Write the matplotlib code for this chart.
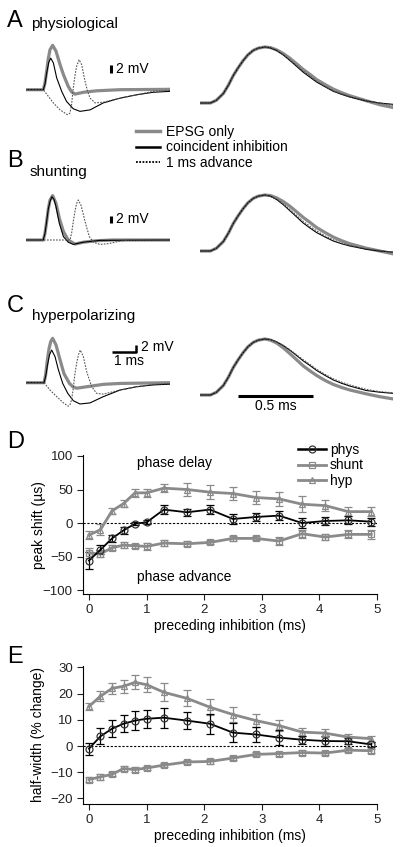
import numpy as np
import matplotlib
matplotlib.use('Agg')
import matplotlib.pyplot as plt
from matplotlib.lines import Line2D

plt.rcParams['font.family'] = ['Liberation Sans', 'DejaVu Sans']

W, H = 400, 847
GRAY = '#8a8a8a'
DOT = '#555555'

# ---- left traces (ms, mV) ----
a_gray_t = [0, 0.72, 0.79, 0.86, 0.93, 1.0, 1.11, 1.25, 1.42, 1.56, 1.76, 1.9, 2.04, 2.39, 2.94, 3.92, 6.0]
a_gray_v = [0, 0, 1.8, 5.0, 8.5, 10.9, 12.1, 10.5, 6.8, 4.1, 0.9, -0.6, -1.2, -0.7, -0.3, 0, 0.1]
a_blk_t = [0, 0.72, 0.79, 0.86, 0.95, 1.03, 1.14, 1.28, 1.49, 1.69, 1.97, 2.25, 2.67, 3.22, 3.92, 4.6, 5.3, 6.0]
a_blk_v = [0, 0, 1.5, 4.5, 7.5, 8.6, 7.3, 3.2, -0.5, -3.2, -5.2, -5.9, -5.5, -3.6, -2.3, -1.4, -0.7, -0.45]
a_dot_t = [0, 0.72, 0.93, 1.14, 1.42, 1.72, 1.83, 1.9, 1.97, 2.04, 2.11, 2.21, 2.32, 2.39, 2.46, 2.56, 2.67, 2.88, 3.22, 3.92, 4.6, 5.3, 6.0]
a_dot_v = [0, 0, -1.8, -3.6, -5.5, -6.8, -6.4, -4.0, 0.5, 3.8, 6.4, 8.2, 6.8, 4.5, 2.3, -0.3, -2.3, -3.6, -3.4, -2.3, -1.4, -0.45, -0.2]

b_gray_t = [0, 0.72, 0.79, 0.86, 0.93, 1.0, 1.11, 1.25, 1.39, 1.56, 1.76, 2.04, 2.39, 2.94, 3.6, 6.0]
b_gray_v = [0, 0, 1.8, 5.0, 8.5, 10.9, 12.1, 10.0, 5.9, 2.3, 0, -1.1, -0.6, -0.2, 0, 0]
b_blk_t = [0, 0.72, 0.79, 0.86, 0.93, 1.0, 1.08, 1.17, 1.25, 1.39, 1.56, 1.76, 1.97, 2.39, 3.08, 6.0]
b_blk_v = [0, 0, 1.8, 5.0, 8.5, 10.5, 11.8, 11.0, 9.1, 4.5, 0.9, -0.6, -1.2, -0.6, -0.1, 0]
b_dot_t = [0, 1.83, 1.9, 1.97, 2.04, 2.11, 2.18, 2.29, 2.38, 2.46, 2.64, 2.81, 3.08, 3.43, 3.92, 4.33, 6.0]
b_dot_v = [0, 0, 1.8, 5.0, 7.8, 10.0, 10.9, 9.5, 7.2, 5.0, 0.9, -0.6, -1.2, -1.0, -0.3, 0, 0]

c_gray_t = [0, 0.75, 0.82, 0.89, 0.96, 1.03, 1.11, 1.25, 1.42, 1.58, 1.81, 1.95, 2.11, 2.53, 3.22, 3.92, 6.0]
c_gray_v = [0, 0, 2.2, 6.2, 9.3, 11.2, 12.1, 10.3, 6.2, 2.5, -0.2, -1.1, -1.5, -1.1, -0.45, -0.2, 0]
c_blk_t = [0, 0.75, 0.82, 0.89, 0.98, 1.07, 1.21, 1.35, 1.53, 1.74, 1.97, 2.25, 2.67, 3.22, 3.92, 4.61, 5.31, 6.0]
c_blk_v = [0, 0, 1.8, 4.6, 7.6, 8.9, 7.1, 3.5, -0.2, -2.9, -4.9, -5.8, -5.5, -3.8, -2.0, -1.1, -0.6, -0.4]
c_dot_t = [0, 0.75, 1.0, 1.28, 1.56, 1.76, 1.83, 1.9, 1.97, 2.04, 2.11, 2.18, 2.26, 2.39, 2.46, 2.53, 2.64, 2.74, 2.94, 3.22, 3.92, 4.61, 5.31, 6.0]
c_dot_v = [0, 0, -2.0, -3.8, -5.5, -6.4, -6.0, -4.7, -1.5, 2.5, 5.3, 7.5, 8.9, 7.1, 5.0, 3.0, 0.8, -1.1, -2.9, -3.1, -2.0, -1.1, -0.45, -0.2]

# ---- right traces (ms, normalised) ----
r_t = [0, 0.07, 0.11, 0.156, 0.19, 0.222, 0.255, 0.289, 0.32, 0.356, 0.39, 0.433, 0.47,
       0.511, 0.555, 0.6, 0.645, 0.689, 0.735, 0.778, 0.835, 0.889, 0.945, 1.0, 1.111, 1.2, 1.289]
ra_gray = [0, 0, 0.05, 0.17, 0.32, 0.49, 0.63, 0.76, 0.86, 0.94, 0.98, 1.0, 0.99,
           0.95, 0.885, 0.80, 0.70, 0.60, 0.51, 0.42, 0.33, 0.25, 0.185, 0.13, 0.04, -0.03, -0.08]
ra_blk = [0, 0, 0.05, 0.17, 0.32, 0.49, 0.63, 0.76, 0.86, 0.94, 0.98, 1.0, 0.985,
          0.94, 0.86, 0.76, 0.655, 0.55, 0.46, 0.375, 0.29, 0.21, 0.155, 0.107, 0.036, 0.0, -0.024]
ra_dot = [0, 0, 0.05, 0.17, 0.32, 0.49, 0.63, 0.76, 0.86, 0.94, 0.98, 1.0, 0.985,
          0.94, 0.865, 0.77, 0.67, 0.57, 0.48, 0.39, 0.30, 0.22, 0.165, 0.115, 0.04, 0.0, -0.04]
rb_gray = [0, 0, 0.05, 0.17, 0.32, 0.49, 0.63, 0.76, 0.86, 0.94, 0.98, 1.0, 0.99,
           0.95, 0.885, 0.80, 0.70, 0.60, 0.51, 0.42, 0.33, 0.25, 0.185, 0.13, 0.05, 0.0, -0.05]
rb_blk = [0, 0, 0.05, 0.17, 0.32, 0.49, 0.63, 0.76, 0.86, 0.94, 0.98, 1.0, 0.98,
          0.92, 0.83, 0.72, 0.61, 0.50, 0.41, 0.33, 0.25, 0.18, 0.13, 0.09, 0.03, 0.0, -0.02]
rb_dot = [0, 0, 0.05, 0.17, 0.32, 0.49, 0.63, 0.76, 0.86, 0.94, 0.98, 1.0, 0.98,
          0.93, 0.845, 0.74, 0.635, 0.53, 0.44, 0.36, 0.27, 0.20, 0.145, 0.10, 0.04, 0.01, -0.02]
rc_gray = [0, 0, 0.05, 0.17, 0.32, 0.49, 0.63, 0.76, 0.86, 0.94, 0.98, 1.0, 0.98,
           0.93, 0.845, 0.74, 0.63, 0.52, 0.43, 0.35, 0.26, 0.19, 0.135, 0.09, 0.02, -0.03, -0.07]
rc_blk = [0, 0, 0.05, 0.17, 0.32, 0.49, 0.63, 0.76, 0.86, 0.94, 0.98, 1.0, 0.99,
          0.95, 0.885, 0.80, 0.705, 0.61, 0.525, 0.44, 0.35, 0.27, 0.21, 0.16, 0.08, 0.05, 0.03]
rc_dot = [0, 0, 0.05, 0.17, 0.32, 0.49, 0.63, 0.76, 0.86, 0.94, 0.98, 1.0, 0.99,
          0.95, 0.89, 0.81, 0.72, 0.63, 0.545, 0.46, 0.37, 0.29, 0.23, 0.18, 0.10, 0.06, 0.04]

# ---- summary data ----
delay = [0, 0.2, 0.4, 0.6, 0.8, 1.0, 1.3, 1.7, 2.1, 2.5, 2.9, 3.3, 3.7, 4.1, 4.5, 4.9]
d_phys = [-56, -40, -23, -11, -1, 1, 20, 16, 20, 6, 9, 11, 0, 3, 4, 2]
d_phys_err = [13, 7, 5, 5, 2, 3, 7, 5, 7, 8, 6, 7, 8, 6, 6, 6]
d_shunt = [-45, -46, -37, -33, -34, -35, -30, -31, -29, -23, -23, -27, -16, -21, -17, -17]
d_shunt_err = [7, 5, 4, 4, 3, 5, 4, 4, 3, 4, 3, 6, 6, 5, 6, 7]
d_hyp = [-18, -10, 18, 29, 45, 45, 52, 50, 46, 44, 38, 36, 28, 26, 17, 17]
d_hyp_err = [6, 8, 5, 5, 6, 6, 6, 9, 10, 10, 10, 10, 12, 8, 7, 7]

e_phys = [-1, 3.7, 6.6, 8.5, 9.7, 10.4, 10.8, 9.7, 8.5, 5.1, 4.4, 3.2, 2.4, 1.9, 1.8, 0.6]
e_phys_err = [2.3, 3, 3.2, 3.2, 3.5, 3.5, 3.8, 3.2, 3.8, 3.5, 3, 2.8, 1.5, 1.8, 1.2, 1.0]
e_shunt = [-12.8, -11.8, -10.8, -8.6, -9.0, -8.4, -7.3, -6.1, -5.9, -4.6, -3.2, -2.9, -2.5, -2.7, -1.6, -1.8]
e_shunt_err = [1, 1, 0.8, 0.8, 0.8, 0.8, 0.8, 0.8, 0.8, 0.8, 0.8, 0.8, 0.8, 0.8, 0.8, 0.8]
e_hyp = [15.1, 19.0, 22.0, 22.8, 24.3, 23.4, 20.5, 18.2, 14.8, 12.0, 9.7, 7.8, 5.3, 4.9, 3.4, 2.8]
e_hyp_err = [1.5, 2, 2.2, 2.5, 2.7, 2.8, 3.5, 3, 3, 3, 2.5, 2, 1.5, 1.5, 1.2, 1.2]


def px_axes(fig, left, top, width, height):
    return fig.add_axes([left / W, 1 - (top + height) / H, width / W, height / H])


def ftext(fig, x, y, s, **kw):
    fig.text(x / W, 1 - y / H, s, **kw)


fig = plt.figure(figsize=(W / 100, H / 100), dpi=100)

PXMV = 3.67   # px per mV, left traces
left_sets = [
    (89.7, a_gray_t, a_gray_v, a_blk_t, a_blk_v, a_dot_t, a_dot_v),
    (240.0, b_gray_t, b_gray_v, b_blk_t, b_blk_v, b_dot_t, b_dot_v),
    (382.7, c_gray_t, c_gray_v, c_blk_t, c_blk_v, c_dot_t, c_dot_v),
]
left_axes = []
for base, gt, gv, bt, bv, dt, dv in left_sets:
    ax = px_axes(fig, 26, base - 14 * PXMV, 144, 23 * PXMV)
    ax.set_xlim(0, 6)
    ax.set_ylim(-9, 14)
    ax.axis('off')
    ax.plot(gt, gv, color=GRAY, lw=2.3, solid_joinstyle='round')
    ax.plot(bt, bv, color='black', lw=0.8)
    ax.plot(dt, dv, color=DOT, lw=0.8, ls=(0, (1.5, 1.2)))
    left_axes.append(ax)

# scale bars
for ax in left_axes[:2]:
    ax.plot([3.54, 3.54], [4.6, 6.6], color='black', lw=2.2, solid_capstyle='butt')
    ax.text(3.75, 5.6, '2 mV', fontsize=10, va='center', ha='left')
axc = left_axes[2]
axc.plot([3.6, 4.6, 4.6], [8.3, 8.3, 10.3], color='black', lw=1.8, solid_capstyle='butt')
axc.text(4.8, 9.6, '2 mV', fontsize=10, va='center', ha='left')
axc.text(4.3, 7.9, '1 ms', fontsize=10, va='top', ha='center')

# right traces
PXN = 56.0
right_sets = [(103.0, ra_gray, ra_blk, ra_dot), (251.0, rb_gray, rb_blk, rb_dot),
              (395.0, rc_gray, rc_blk, rc_dot)]
right_axes = []
for base, g, b, d in right_sets:
    ax = px_axes(fig, 200, base - 1.1 * PXN, 193, 1.3 * PXN)
    ax.set_xlim(0, 1.289)
    ax.set_ylim(-0.2, 1.1)
    ax.axis('off')
    ax.plot(r_t, g, color=GRAY, lw=2.3, solid_joinstyle='round')
    ax.plot(r_t, b, color='black', lw=0.8)
    ax.plot(r_t, d, color=DOT, lw=0.8, ls=(0, (1.5, 1.2)))
    right_axes.append(ax)
axr = right_axes[2]
axr.plot([0.253, 0.753], [-0.01, -0.01], color='black', lw=2.2, solid_capstyle='butt')
axr.text(0.503, -0.07, '0.5 ms', fontsize=10, va='top', ha='center')

# legend for traces
trace_handles = [Line2D([], [], color=GRAY, lw=2.5),
                 Line2D([], [], color='black', lw=1.8),
                 Line2D([], [], color='black', lw=1.3, ls=(0, (1, 0.8)))]
fig.legend(trace_handles, ['EPSG only', 'coincident inhibition', '1 ms advance'],
           loc='upper left', bbox_to_anchor=(136 / W, 1 - 125 / H), frameon=False,
           fontsize=10, handlelength=1.75, handletextpad=0.4, labelspacing=0.1,
           borderpad=0, borderaxespad=0)

# panel labels
for x, y, s in [(7, 27, 'A'), (7, 167, 'B'), (7, 312, 'C'), (7, 448, 'D'), (7, 663, 'E')]:
    ftext(fig, x, y, s, fontsize=17, va='baseline')
ftext(fig, 31, 28, 'physiological', fontsize=11, va='baseline')
ftext(fig, 30, 176, 'shunting', fontsize=11, va='baseline')
ftext(fig, 32, 320, 'hyperpolarizing', fontsize=11, va='baseline')


def summary(ax, phys, pe, shunt, se, hyp, he):
    kw = dict(capsize=3, capthick=0.9, elinewidth=0.9, markersize=5, mfc='none', mew=0.9)
    ax.errorbar(delay, hyp, yerr=he, color=GRAY, lw=2, marker='^', ecolor=GRAY, mec=GRAY, **kw)
    ax.errorbar(delay, shunt, yerr=se, color=GRAY, lw=2, marker='s', ecolor=GRAY, mec=GRAY, **kw)
    ax.errorbar(delay, phys, yerr=pe, color='black', lw=1.3, marker='o', ecolor='black', mec='#333333', **kw)
    ax.axhline(0, color='black', lw=0.8, ls=(0, (2, 1.5)), zorder=0)
    ax.set_xlim(-0.1, 5.0)
    ax.set_xticks([0, 1, 2, 3, 4, 5])
    ax.spines[['top', 'right']].set_visible(False)
    ax.tick_params(direction='out', length=4, width=0.8, labelsize=9.5, colors='#222222')
    ax.set_xlabel('preceding inhibition (ms)', fontsize=10, labelpad=2)


# D
PXD = 0.67
axd = px_axes(fig, 83.2, 523 - 101 * PXD, 293.8, 207 * PXD)
summary(axd, d_phys, d_phys_err, d_shunt, d_shunt_err, d_hyp, d_hyp_err)
axd.set_ylim(-106, 101)
axd.set_yticks([-100, -50, 0, 50, 100])
axd.set_ylabel('peak shift (\u00b5s)', fontsize=10)
axd.yaxis.set_label_coords(-0.128, 0.5)
axd.text(1.48, 90, 'phase delay', fontsize=10, ha='center', va='center')
axd.text(1.65, -80, 'phase advance', fontsize=10, ha='center', va='center')
mk = dict(mfc='none', markersize=5, mew=0.9)
sum_handles = [Line2D([], [], color='black', lw=1.8, marker='o', mec='#333333', **mk),
               Line2D([], [], color=GRAY, lw=2, marker='s', mec=GRAY, **mk),
               Line2D([], [], color=GRAY, lw=2, marker='^', mec=GRAY, **mk)]
axd.legend(sum_handles, ['phys', 'shunt', 'hyp'], loc='upper left',
           bbox_to_anchor=(298 / W, 1 - 443 / H), bbox_transform=fig.transFigure,
           frameon=False, fontsize=10, handlelength=2.0, handletextpad=0.3,
           labelspacing=0.1, borderpad=0, borderaxespad=0)

# E
PXE = 2.62
axe = px_axes(fig, 83.2, 746 - 30.5 * PXE, 293.8, 52.5 * PXE)
summary(axe, e_phys, e_phys_err, e_shunt, e_shunt_err, e_hyp, e_hyp_err)
axe.set_ylim(-22, 30.5)
axe.set_yticks([-20, -10, 0, 10, 20, 30])
axe.set_ylabel('half-width (% change)', fontsize=10)
axe.yaxis.set_label_coords(-0.13, 0.5)

fig.savefig('out.png', dpi=100)
